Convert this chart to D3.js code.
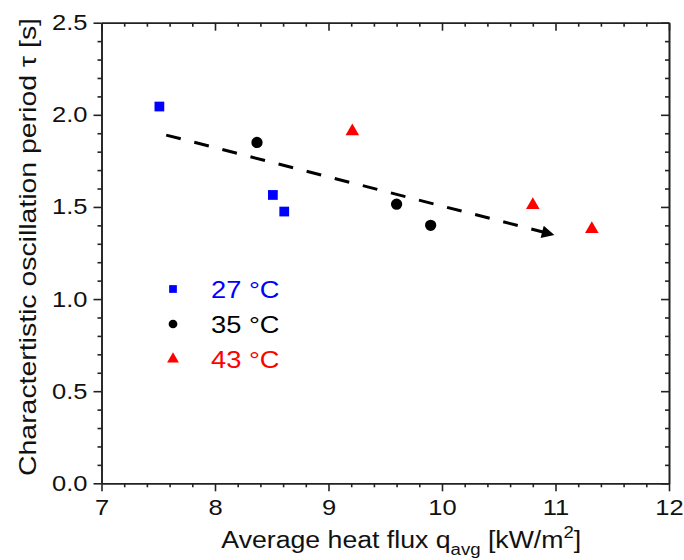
<!DOCTYPE html>
<html>
<head>
<meta charset="utf-8">
<script src="https://cdn.jsdelivr.net/npm/d3@7"></script>
<style>
  html, body { margin: 0; padding: 0; background: #fff; }
  svg { display: block; font-family: Arial, "Liberation Sans", sans-serif; }
</style>
</head>
<body>
<svg id="chart" width="684" height="560"></svg>
<script>
// ---- data ----
const xTicks = [7, 8, 9, 10, 11, 12];
const yTicks = [0.0, 0.5, 1.0, 1.5, 2.0, 2.5];
const seriesNames = ["27 °C", "35 °C", "43 °C"];
const seriesColors = ["#0000ff", "#000000", "#ff0000"];
const x27 = [7.51, 8.51, 8.61];
const y27 = [2.045, 1.565, 1.475];
const x35 = [8.37, 9.60, 9.90];
const y35 = [1.85, 1.515, 1.40];
const x43 = [9.21, 10.80, 11.32];
const y43 = [1.91, 1.51, 1.38];
const trendX = [7.57, 10.99];
const trendY = [1.89, 1.348];

// ---- layout ----
const svg = d3.select("#chart");
const L = 101.5, R = 669, T = 22.7, B = 483.3;
const x = d3.scaleLinear().domain([7, 12]).range([L, R]);
const y = d3.scaleLinear().domain([0, 2.5]).range([B, T]);
const axisColor = "#222";
const tickFont = 22;
const SX = 1.16; // horizontal widening of the glyphs

const xMinor = d3.range(7, 12.001, 0.2).filter(v => Math.abs(v - Math.round(v)) > 1e-6);
const yMinor = d3.range(0, 2.5001, 0.1).filter(v => Math.abs(v * 2 - Math.round(v * 2)) > 1e-6);

function styleAxis(g) {
  g.select(".domain").attr("stroke", axisColor).attr("stroke-width", 1.6);
  g.selectAll(".tick line").attr("stroke", axisColor).attr("stroke-width", 1.6);
  g.selectAll(".tick text").attr("fill", "#111").style("font-size", tickFont + "px")
    .style("font-family", "Arial, 'Liberation Sans', sans-serif")
    .each(function () {
      const t = d3.select(this);
      const xv = +t.attr("x") || 0;
      t.attr("x", xv / SX).attr("transform", `scale(${SX},1)`);
    });
}

// bottom
svg.append("g").attr("transform", `translate(0,${B})`)
  .call(d3.axisBottom(x).tickValues(xTicks).tickFormat(d3.format("d")).tickSize(8).tickPadding(8).tickSizeOuter(0))
  .call(styleAxis);
svg.append("g").attr("transform", `translate(0,${B})`)
  .call(d3.axisBottom(x).tickValues(xMinor).tickFormat("").tickSize(4).tickSizeOuter(0))
  .call(styleAxis);
// top
svg.append("g").attr("transform", `translate(0,${T})`)
  .call(d3.axisBottom(x).tickValues(xTicks).tickFormat("").tickSize(8).tickSizeOuter(0))
  .call(styleAxis);
svg.append("g").attr("transform", `translate(0,${T})`)
  .call(d3.axisBottom(x).tickValues(xMinor).tickFormat("").tickSize(4).tickSizeOuter(0))
  .call(styleAxis);
// left
svg.append("g").attr("transform", `translate(${L},0)`)
  .call(d3.axisLeft(y).tickValues(yTicks).tickFormat(d3.format(".1f")).tickSize(8).tickPadding(6).tickSizeOuter(0))
  .call(styleAxis);
svg.append("g").attr("transform", `translate(${L},0)`)
  .call(d3.axisLeft(y).tickValues(yMinor).tickFormat("").tickSize(4).tickSizeOuter(0))
  .call(styleAxis);
// right
svg.append("g").attr("transform", `translate(${R},0)`)
  .call(d3.axisLeft(y).tickValues(yTicks).tickFormat("").tickSize(8).tickSizeOuter(0))
  .call(styleAxis);
svg.append("g").attr("transform", `translate(${R},0)`)
  .call(d3.axisLeft(y).tickValues(yMinor).tickFormat("").tickSize(4).tickSizeOuter(0))
  .call(styleAxis);

// ---- axis titles ----
const xtG = svg.append("g").attr("transform", `translate(${(L + R) / 2 + 16},548) scale(${SX},1)`);
const xt = xtG.append("text").attr("x", 0).attr("y", 0)
  .attr("text-anchor", "middle").style("font-size", "23px").attr("fill", "#111");
xt.append("tspan").text("Average heat flux q");
xt.append("tspan").text("avg").attr("dy", 7).style("font-size", "16px");
xt.append("tspan").text(" [kW/m").attr("dy", -7);
xt.append("tspan").text("2").attr("dy", -10).style("font-size", "16px");
xt.append("tspan").text("]").attr("dy", 10);

svg.append("text").attr("transform", `translate(36,247) rotate(-90) scale(${SX},1)`)
  .attr("text-anchor", "middle").style("font-size", "24.5px").attr("fill", "#111")
  .text("Charactertistic oscillation period τ [s]");

// ---- trend arrow ----
svg.append("defs").append("marker").attr("id", "arrow")
  .attr("viewBox", "0 0 10 10").attr("refX", 10).attr("refY", 5)
  .attr("markerWidth", 7.5).attr("markerHeight", 4.2).attr("markerUnits", "strokeWidth")
  .attr("orient", "auto")
  .append("path").attr("d", "M0,0 L10,5 L0,10 Z").attr("fill", "#000");

svg.append("line")
  .attr("x1", x(trendX[0])).attr("y1", y(trendY[0]))
  .attr("x2", x(trendX[1])).attr("y2", y(trendY[1]))
  .attr("stroke", "#000").attr("stroke-width", 3)
  .attr("stroke-dasharray", "15,14")
  .attr("marker-end", "url(#arrow)");

// ---- points ----
const plot = svg.append("g");
const sq = d3.symbol().type(d3.symbolSquare).size(95);
const ci = d3.symbol().type(d3.symbolCircle).size(100);
const tr = d3.symbol().type(d3.symbolTriangle).size(80);

x27.forEach((v, i) => plot.append("path").attr("d", sq())
  .attr("transform", `translate(${x(v)},${y(y27[i])})`).attr("fill", seriesColors[0]));
x35.forEach((v, i) => plot.append("path").attr("d", ci())
  .attr("transform", `translate(${x(v)},${y(y35[i])})`).attr("fill", seriesColors[1]));
x43.forEach((v, i) => plot.append("path").attr("d", tr())
  .attr("transform", `translate(${x(v)},${y(y43[i])})`).attr("fill", seriesColors[2]));

// ---- legend ----
const legendSyms = [
  d3.symbol().type(d3.symbolSquare).size(60),
  d3.symbol().type(d3.symbolCircle).size(60),
  d3.symbol().type(d3.symbolTriangle).size(60)
];
const lg = svg.append("g");
seriesNames.forEach((name, i) => {
  const cy = 289 + i * 35;
  lg.append("path").attr("d", legendSyms[i]())
    .attr("transform", `translate(173,${cy})`).attr("fill", seriesColors[i]);
  lg.append("text").attr("transform", `translate(211,${cy + 8.5}) scale(${SX},1)`)
    .style("font-size", "23.5px")
    .attr("fill", seriesColors[i]).text(name);
});
</script>
</body>
</html>
